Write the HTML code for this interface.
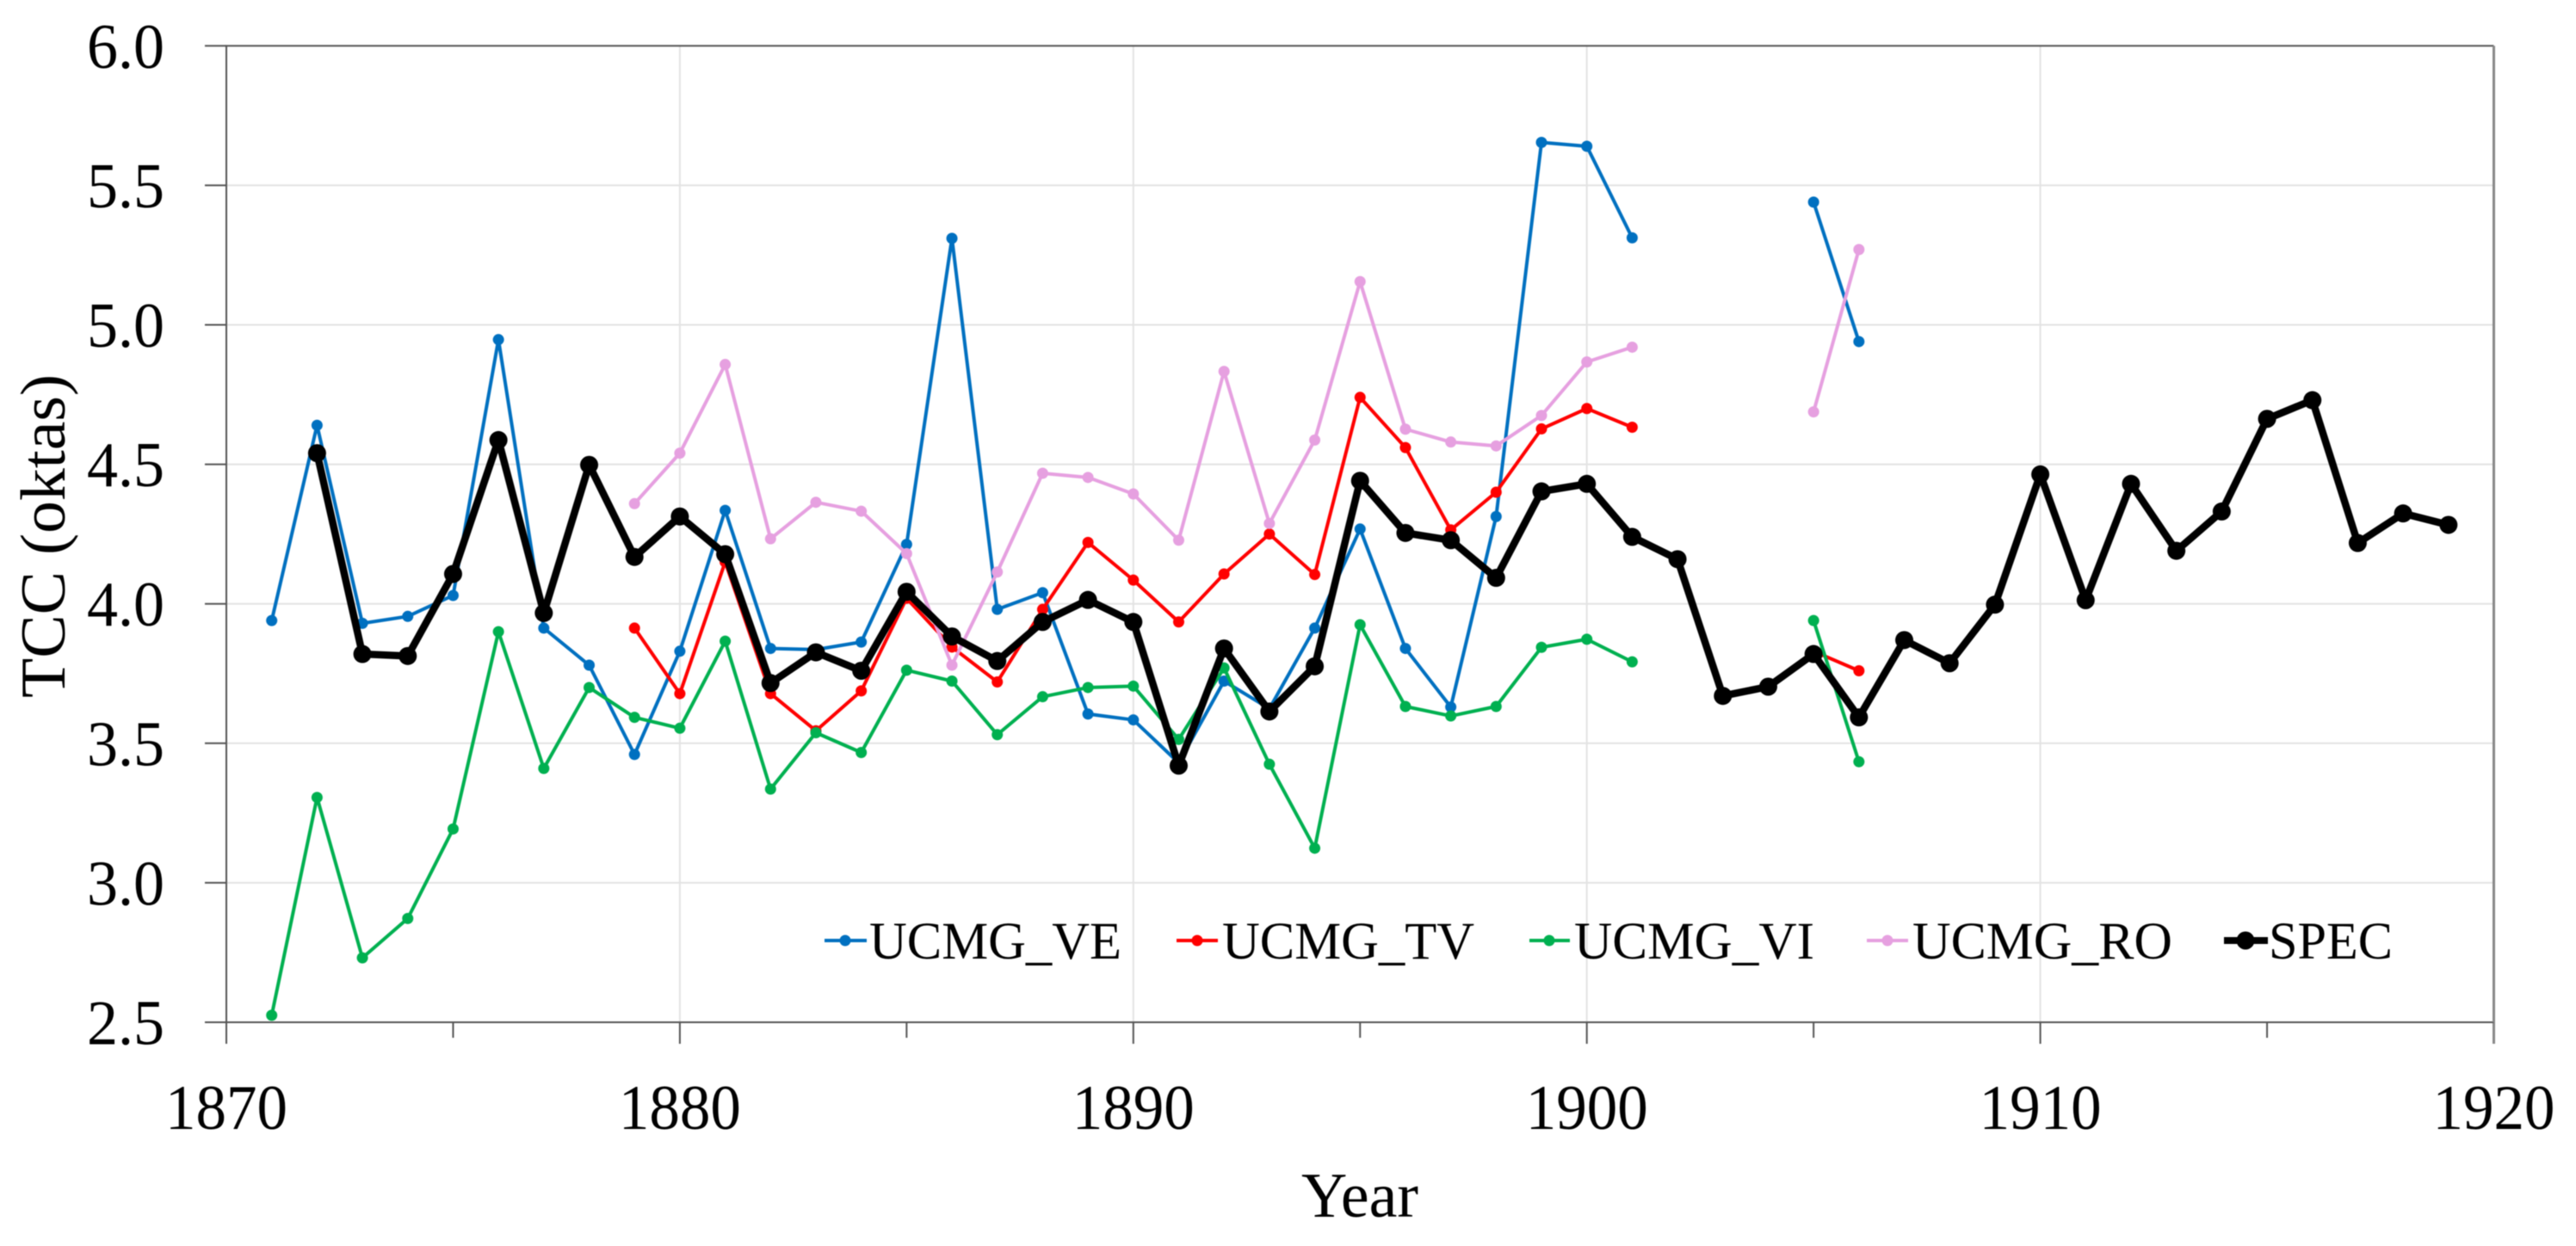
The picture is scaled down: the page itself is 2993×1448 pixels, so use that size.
<!DOCTYPE html>
<html lang="en">
<head>
<meta charset="utf-8">
<title>TCC (oktas) by year</title>
<style>
html,body{margin:0;padding:0;background:#fff;}
#chart{display:block;width:2993px;height:1448px;font-family:"Liberation Serif",serif;fill:#000;filter:blur(0.5px);}
</style>
</head>
<body>
<svg id="chart" xmlns="http://www.w3.org/2000/svg" width="2993" height="1448" viewBox="0 0 2993 1448">
  <rect x="0" y="0" width="2993" height="1448" fill="#ffffff"/>
  <g id="grid"></g>
  <g id="axes"></g>
  <g id="marks"></g>
  <text transform="translate(75,623) rotate(-90)" text-anchor="middle" font-size="74" textLength="376" lengthAdjust="spacingAndGlyphs">TCC (oktas)</text>
  <text x="1580" y="1414" text-anchor="middle" font-size="74" textLength="136" lengthAdjust="spacingAndGlyphs">Year</text>
  <g font-size="61">
    <g>
      <line x1="958" x2="1007" y1="1093" y2="1093" stroke="#0070C0" stroke-width="4"/>
      <circle cx="982" cy="1093" r="6.5" fill="#0070C0"/>
      <text x="1010" y="1114" textLength="293" lengthAdjust="spacingAndGlyphs">UCMG_VE</text>
    </g>
    <g>
      <line x1="1367" x2="1415" y1="1093" y2="1093" stroke="#FF0000" stroke-width="4"/>
      <circle cx="1391" cy="1093" r="6.5" fill="#FF0000"/>
      <text x="1420" y="1114" textLength="293" lengthAdjust="spacingAndGlyphs">UCMG_TV</text>
    </g>
    <g>
      <line x1="1777" x2="1824" y1="1093" y2="1093" stroke="#00B050" stroke-width="4"/>
      <circle cx="1800" cy="1093" r="6.5" fill="#00B050"/>
      <text x="1829" y="1114" textLength="279" lengthAdjust="spacingAndGlyphs">UCMG_VI</text>
    </g>
    <g>
      <line x1="2169" x2="2217" y1="1093" y2="1093" stroke="#E6A0E0" stroke-width="4"/>
      <circle cx="2193" cy="1093" r="6.5" fill="#E6A0E0"/>
      <text x="2222" y="1114" textLength="302" lengthAdjust="spacingAndGlyphs">UCMG_RO</text>
    </g>
    <g>
      <line x1="2584" x2="2635" y1="1093" y2="1093" stroke="#000000" stroke-width="8"/>
      <circle cx="2609" cy="1093" r="10.5" fill="#000000"/>
      <text x="2636" y="1114" textLength="144" lengthAdjust="spacingAndGlyphs">SPEC</text>
    </g>
  </g>
</svg>
<script>
const years = [1871,1872,1873,1874,1875,1876,1877,1878,1879,1880,1881,1882,1883,1884,1885,1886,1887,1888,1889,1890,1891,1892,1893,1894,1895,1896,1897,1898,1899,1900,1901,1902,1903,1904,1905,1906,1907,1908,1909,1910,1911,1912,1913,1914,1915,1916,1917,1918,1919];
const ucmgVe = [3.94,4.64,3.93,3.955,4.03,4.947,3.913,3.78,3.46,3.83,4.335,3.84,3.836,3.863,4.213,5.31,3.98,4.04,3.605,3.584,3.43,3.723,3.624,3.913,4.268,3.84,3.63,4.313,5.654,5.64,5.312,null,null,null,5.44,4.94,null,null,null,null,null,null,null,null,null,null,null,null,null];
const ucmgTv = [null,null,null,null,null,null,null,null,3.913,3.678,4.15,3.678,3.545,3.688,4.02,3.845,3.72,3.98,4.22,4.085,3.935,4.107,4.25,4.105,4.74,4.56,4.265,4.40,4.627,4.70,4.633,null,null,null,3.83,3.76,null,null,null,null,null,null,null,null,null,null,null,null,null];
const ucmgVi = [2.525,3.306,2.731,2.872,3.193,3.90,3.41,3.70,3.593,3.554,3.866,3.336,3.538,3.467,3.762,3.723,3.531,3.667,3.70,3.705,3.514,3.77,3.425,3.124,3.925,3.632,3.598,3.632,3.844,3.873,3.792,null,null,null,3.94,3.434,null,null,null,null,null,null,null,null,null,null,null,null,null];
const ucmgRo = [null,null,null,null,null,null,null,null,4.359,4.54,4.858,4.233,4.364,4.332,4.18,3.78,4.114,4.468,4.453,4.394,4.228,4.833,4.288,4.587,5.155,4.626,4.58,4.566,4.675,4.867,4.92,null,null,null,4.688,5.27,null,null,null,null,null,null,null,null,null,null,null,null,null];
const spec = [null,4.54,3.82,3.813,4.107,4.587,3.967,4.498,4.168,4.313,4.178,3.716,3.826,3.76,4.043,3.883,3.795,3.935,4.014,3.935,3.42,3.84,3.614,3.776,4.441,4.254,4.228,4.093,4.403,4.43,4.24,4.16,3.67,3.703,3.82,3.593,3.87,3.787,3.997,4.464,4.013,4.43,4.19,4.331,4.663,4.73,4.218,4.324,4.283];
const yTickValues = [2.5,3.0,3.5,4.0,4.5,5.0,5.5,6.0];
const xMajorTicks = [1870,1880,1890,1900,1910,1920];
const xMinorTicks = [1875,1885,1895,1905,1915];

const NS = 'http://www.w3.org/2000/svg';
const plot = {left: 263, right: 2897.5, top: 53.3, bottom: 1188};
function xScale(v) { return plot.left + (v - 1870) / 50 * (plot.right - plot.left); }
function yScale(v) { return plot.bottom - (v - 2.5) / 3.5 * (plot.bottom - plot.top); }
function make(tag, parent, props) {
  const el = document.createElementNS(NS, tag);
  for (const k in props) el.setAttribute(k, props[k]);
  parent.appendChild(el);
  return el;
}

const grid = document.getElementById('grid');
const axes = document.getElementById('axes');
const marks = document.getElementById('marks');

yTickValues.forEach(function (v) {
  const y = yScale(v);
  if (v > 2.5 && v < 6) {
    const g = make('line', grid, {x1: plot.left, x2: plot.right, y1: y, y2: y, stroke: '#e3e3e3', 'stroke-width': 2});
    
    
  }
  const t = make('line', axes, {x1: plot.left - 25, x2: plot.left, y1: y, y2: y, stroke: '#555', 'stroke-width': 2});
  
  
  const l = make('text', axes, {x: 191, y: y + 25.5, 'text-anchor': 'end', 'font-size': 74, textLength: 90, lengthAdjust: 'spacingAndGlyphs'});
  
  
  l.textContent = v.toFixed(1);
});

xMajorTicks.forEach(function (v) {
  const x = xScale(v);
  if (v > 1870 && v < 1920) {
    const g = make('line', grid, {x1: x, x2: x, y1: plot.top, y2: plot.bottom, stroke: '#e3e3e3', 'stroke-width': 2});
    
    
  }
  const t = make('line', axes, {x1: x, x2: x, y1: plot.bottom, y2: plot.bottom + 25, stroke: v === 1920 ? '#888' : '#555', 'stroke-width': v === 1920 ? 3 : 2});
  
  
  const l = make('text', axes, {x: x, y: 1312, 'text-anchor': 'middle', 'font-size': 74, textLength: 142, lengthAdjust: 'spacingAndGlyphs'});
  
  
  l.textContent = String(v);
});

xMinorTicks.forEach(function (v) {
  const x = xScale(v);
  const t = make('line', axes, {x1: x, x2: x, y1: plot.bottom, y2: plot.bottom + 18, stroke: '#555', 'stroke-width': 2});
  
  
});

const frame = make('path', axes, {d: 'M' + plot.right + ' ' + plot.bottom + 'H' + plot.left + 'V' + plot.top + 'H' + plot.right, fill: 'none', stroke: '#555', 'stroke-width': 2});


const rightEdge = make('line', axes, {x1: plot.right, x2: plot.right, y1: plot.top, y2: plot.bottom, stroke: '#888', 'stroke-width': 3});



function drawSeries(values, name, color, lineWidth, radius) {
  const group = make('g', marks, {});
  
  
  let segment = [];
  function flush() {
    if (segment.length > 1) {
      const p = make('polyline', group, {points: segment.join(' '), fill: 'none', stroke: color, 'stroke-width': lineWidth, 'stroke-linejoin': 'round'});
      
      
    }
    segment = [];
  }
  values.forEach(function (v, i) {
    if (v === null) { flush(); return; }
    segment.push(xScale(years[i]).toFixed(2) + ',' + yScale(v).toFixed(2));
  });
  flush();
  values.forEach(function (v, i) {
    if (v === null) return;
    const c = make('circle', group, {cx: xScale(years[i]).toFixed(2), cy: yScale(v).toFixed(2), r: radius, fill: color});
    
    
  });
}

drawSeries(ucmgVe, 'ucmg-ve', '#0070C0', 4, 6.5);
drawSeries(ucmgTv, 'ucmg-tv', '#FF0000', 4, 6.5);
drawSeries(ucmgVi, 'ucmg-vi', '#00B050', 4, 6.5);
drawSeries(ucmgRo, 'ucmg-ro', '#E6A0E0', 4, 6.5);
drawSeries(spec, 'spec', '#000000', 8.5, 10.5);
</script>
</body>
</html>
